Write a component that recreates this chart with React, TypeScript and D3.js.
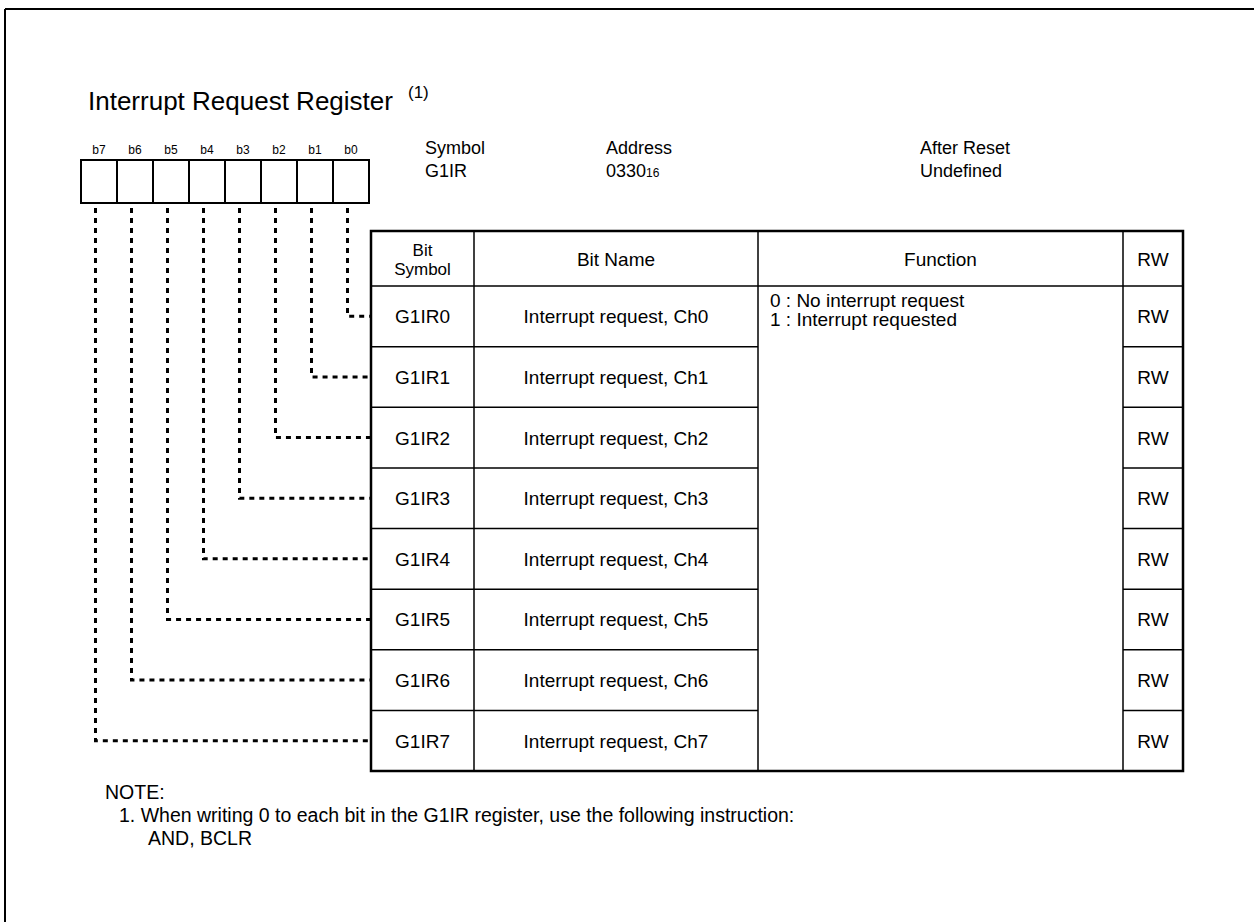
import React from 'react'
import * as d3 from 'd3'

const bitLabels = ['b7', 'b6', 'b5', 'b4', 'b3', 'b2', 'b1', 'b0']
const bitSymbols = ['G1IR0', 'G1IR1', 'G1IR2', 'G1IR3', 'G1IR4', 'G1IR5', 'G1IR6', 'G1IR7']
const bitNames = [
    'Interrupt request, Ch0', 'Interrupt request, Ch1', 'Interrupt request, Ch2', 'Interrupt request, Ch3',
    'Interrupt request, Ch4', 'Interrupt request, Ch5', 'Interrupt request, Ch6', 'Interrupt request, Ch7',
]
const rwValues = ['RW', 'RW', 'RW', 'RW', 'RW', 'RW', 'RW', 'RW']
const functionLines = ['0 : No interrupt request', '1 : Interrupt requested']
const headers = [['Bit', 'Symbol'], ['Bit Name'], ['Function'], ['RW']]
const columns = ['symbol', 'name', 'function', 'rw']
const noteLines = ['NOTE:', '1. When writing 0 to each bit in the G1IR register, use the following instruction:', 'AND, BCLR']

const FONT = '"Liberation Sans", Arial, sans-serif'

const App = () => {
    // bit boxes along the top
    const xBit = d3.scaleBand().domain(bitLabels).range([81, 369])
    const boxTop = 160
    const boxBottom = 203

    // table geometry
    const colEdges = [371, 474, 758, 1123, 1183]
    const tableTop = 231
    const headBottom = 286
    const tableBottom = 771
    const yRow = d3.scaleBand().domain(bitSymbols).range([headBottom, tableBottom])
    const colMid = (i) => (colEdges[i] + colEdges[i + 1]) / 2

    return (
        <svg width={1254} height={922} style={{ position: 'absolute', left: 0, top: 0, background: '#fff' }}
            fontFamily={FONT}>
            {/* frame, only top and left edge show */}
            <line x1={5} x2={1254} y1={9} y2={9} stroke='#000' strokeWidth={2} />
            <line x1={5} x2={5} y1={9} y2={922} stroke='#000' strokeWidth={2} />

            <text x={88} y={110} fontSize={26} fill='#000'>Interrupt Request Register</text>
            <text x={408} y={98} fontSize={17} fill='#000'>(1)</text>

            {bitLabels.map(b => (
                <g key={b}>
                    <text x={xBit(b) + xBit.bandwidth() / 2} y={154} fontSize={12} textAnchor='middle'>{b}</text>
                    <rect x={xBit(b)} y={boxTop} width={xBit.bandwidth()} height={boxBottom - boxTop}
                        fill='none' stroke='#000' strokeWidth={2} />
                </g>
            ))}

            <g fontSize={18}>
                <text x={425} y={154}>Symbol</text>
                <text x={425} y={177}>G1IR</text>
                <text x={606} y={154}>Address</text>
                <text x={606} y={177}>0330<tspan fontSize={12}>16</tspan></text>
                <text x={920} y={154}>After Reset</text>
                <text x={920} y={177}>Undefined</text>
            </g>

            {/* dotted leaders from each bit box to its row */}
            {bitSymbols.map((s, i) => {
                const b = bitLabels[bitLabels.length - 1 - i]
                const x = xBit(b) + xBit.bandwidth() / 2 - 3.5
                const cy = yRow(s) + yRow.bandwidth() / 2
                return (
                    <path key={s} d={`M${x},${boxBottom + 5} V${cy} H${colEdges[0]}`}
                        fill='none' stroke='#000' strokeWidth={3} strokeDasharray='5,5' />
                )
            })}

            {/* table */}
            <g stroke='#000'>
                <line x1={colEdges[0]} x2={colEdges[4]} y1={headBottom} y2={headBottom} strokeWidth={1.5} />
                {bitSymbols.slice(1).map(s => (
                    <g key={s}>
                        <line x1={colEdges[0]} x2={colEdges[2]} y1={yRow(s)} y2={yRow(s)} strokeWidth={1.5} />
                        <line x1={colEdges[3]} x2={colEdges[4]} y1={yRow(s)} y2={yRow(s)} strokeWidth={1.5} />
                    </g>
                ))}
                {colEdges.slice(1, 4).map(x => (
                    <line key={x} x1={x} x2={x} y1={tableTop} y2={tableBottom} strokeWidth={1.5} />
                ))}
                <rect x={colEdges[0]} y={tableTop} width={colEdges[4] - colEdges[0]} height={tableBottom - tableTop}
                    fill='none' strokeWidth={2.5} />
            </g>

            <g fontSize={19} textAnchor='middle'>
                {headers.map((h, i) => h.map((line, j) => (
                    <text key={columns[i] + line} x={colMid(i)}
                        y={(tableTop + headBottom) / 2 + 7 + (j - (h.length - 1) / 2) * 19}
                        fontSize={h.length > 1 ? 17 : 19}>{line}</text>
                )))}
                {bitSymbols.map((s, i) => {
                    const cy = yRow(s) + yRow.bandwidth() / 2 + 7
                    return (
                        <g key={s}>
                            <text x={colMid(0)} y={cy}>{s}</text>
                            <text x={colMid(1)} y={cy}>{bitNames[i]}</text>
                            <text x={colMid(3)} y={cy}>{rwValues[i]}</text>
                        </g>
                    )
                })}
            </g>

            <g fontSize={19}>
                {functionLines.map((l, j) => (
                    <text key={l} x={colEdges[2] + 12} y={headBottom + 21 + j * 19}>{l}</text>
                ))}
            </g>

            <g fontSize={19.5}>
                <text x={105} y={799}>{noteLines[0]}</text>
                <text x={119} y={822}>{noteLines[1]}</text>
                <text x={148} y={845}>{noteLines[2]}</text>
            </g>
        </svg>
    )
}

export default App
